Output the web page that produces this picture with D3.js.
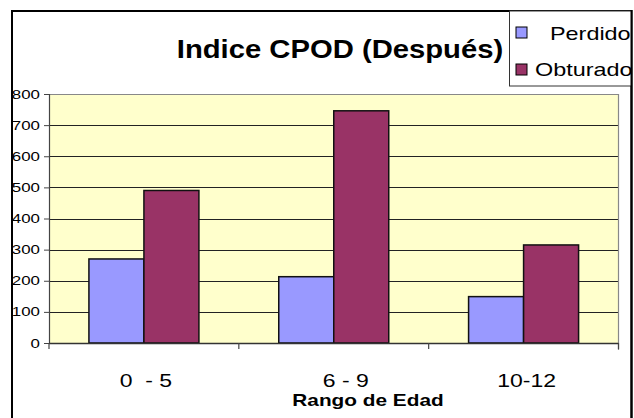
<!DOCTYPE html>
<html><head><meta charset="utf-8">
<script src="https://cdn.jsdelivr.net/npm/d3@7"></script>
<style>body{margin:0;background:#fff}svg{display:block;font-family:"Liberation Sans",Arial,sans-serif}</style>
</head><body><svg id="c" width="634" height="418"></svg>
<script>
const categories = ["0  - 5", "6 - 9", "10-12"];
const seriesNames = ["Perdido", "Obturado"];
const perdido = [270, 213, 149];
const obturado = [490, 746, 315];
const yTicks = [0, 100, 200, 300, 400, 500, 600, 700, 800];
const colors = ["#9999FF", "#993366"];

const svg = d3.select("#c");
const L = 49, R = 618.5, T = 94, B = 343;
const x = d3.scaleBand().domain(categories).range([L, R]).padding(0);
const y = d3.scaleLinear().domain([0, 800]).range([B, T]);
const barW = 55;

function stext(parent, tx, ty, str, size, sx, anchor, weight) {
  return parent.append("text")
    .attr("transform", `translate(${tx},${ty}) scale(${sx},1)`)
    .attr("text-anchor", anchor || "start")
    .attr("font-size", size).attr("font-weight", weight || "normal")
    .style("white-space", "pre").text(str);
}

svg.append("rect").attr("x", 12).attr("y", 11).attr("width", 619.5).attr("height", 420)
  .attr("fill", "#fff").attr("stroke", "#000").attr("stroke-width", 2);

svg.append("rect").attr("x", L).attr("y", T).attr("width", R - L).attr("height", B - T)
  .attr("fill", "#FFFFCC");

svg.append("g").selectAll("line").data(yTicks.slice(1)).join("line")
  .attr("x1", L).attr("x2", R).attr("y1", d => Math.round(y(d)) + 0.5).attr("y2", d => Math.round(y(d)) + 0.5)
  .attr("stroke", d => d === 800 ? "#888" : "#222").attr("stroke-width", 1.2);

svg.append("line").attr("x1", R).attr("x2", R).attr("y1", T).attr("y2", B + 7).attr("stroke", "#888").attr("stroke-width", 1.2);

const data = categories.map((c, i) => ({c, vals: [perdido[i], obturado[i]]}));
const g = svg.append("g");
data.forEach(d => {
  const cx = x(d.c) + x.bandwidth() / 2;
  d.vals.forEach((v, j) => {
    g.append("rect")
      .attr("x", cx - barW + j * barW).attr("y", y(v))
      .attr("width", barW).attr("height", y(0) - y(v))
      .attr("fill", colors[j]).attr("stroke", "#111").attr("stroke-width", 1.5);
  });
});

const yAxis = d3.axisLeft(y).tickValues(yTicks).tickSize(5).tickFormat("");
const ya = svg.append("g").attr("transform", `translate(${L},0)`).call(yAxis);
ya.select(".domain").attr("stroke", "#444").attr("stroke-width", 1.2);
ya.selectAll(".tick line").attr("stroke", "#444");
const yl = svg.append("g");
yTicks.forEach(t => stext(yl, 40, y(t) + 4.5, String(t), 12.5, 1.35, "end"));

svg.append("line").attr("x1", L).attr("x2", R).attr("y1", B + 0.5).attr("y2", B + 0.5).attr("stroke", "#333").attr("stroke-width", 1.5);
const bounds = [L, ...categories.map(c => x(c) + x.bandwidth())];
svg.append("g").selectAll("line").data(bounds).join("line")
  .attr("x1", d => d).attr("x2", d => d).attr("y1", B).attr("y2", B + 6).attr("stroke", "#444").attr("stroke-width", 1.2);
const xl = svg.append("g");
const labelDx = [2, 12, 3];
categories.forEach((c, i) => stext(xl, x(c) + x.bandwidth() / 2 + labelDx[i], 386.5, c, 17.7, 1.3, "middle"));

stext(svg, 368, 405.5, "Rango de Edad", 16, 1.3, "middle", "bold");

stext(svg, 340, 57.5, "Indice CPOD (Después)", 25, 1.17, "middle", "bold");

const lg = svg.append("g");
lg.append("rect").attr("x", 509.5).attr("y", 11).attr("width", 122).attr("height", 75)
  .attr("fill", "#fff").attr("stroke", "#333").attr("stroke-width", 1);
svg.append("clipPath").attr("id", "lc").append("rect").attr("x", 509).attr("y", 11).attr("width", 122).attr("height", 75);
const lgt = lg.append("g").attr("clip-path", "url(#lc)");
const items = [{n: seriesNames[0], c: colors[0], sy: 27, tx: 550, ty: 39.5}, {n: seriesNames[1], c: colors[1], sy: 64, tx: 535, ty: 76}];
items.forEach(it => {
  lg.append("rect").attr("x", 516).attr("y", it.sy).attr("width", 11).attr("height", 11)
    .attr("fill", it.c).attr("stroke", "#000").attr("stroke-width", 1);
  stext(lgt, it.tx, it.ty, it.n, 18, 1.3, "start");
});
svg.append("line").attr("x1", 631.5).attr("x2", 631.5).attr("y1", 10).attr("y2", 418).attr("stroke", "#000").attr("stroke-width", 2);
</script></body></html>
